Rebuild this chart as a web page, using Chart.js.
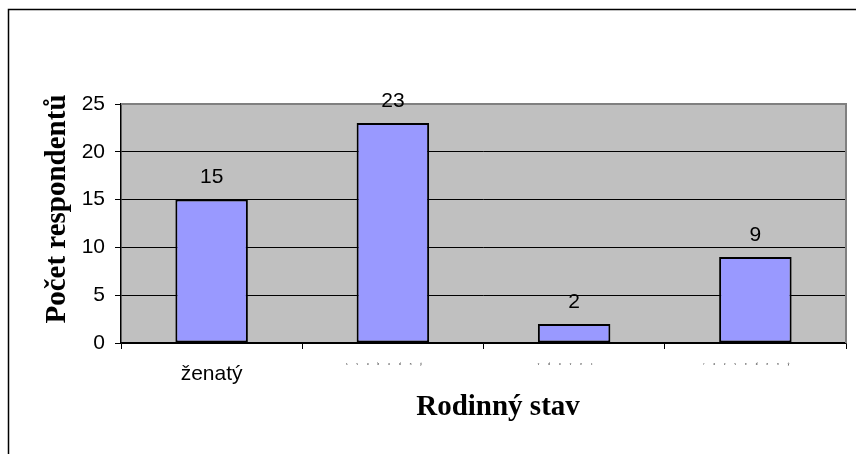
<!DOCTYPE html>
<html>
<head>
<meta charset="utf-8">
<script src="https://cdn.jsdelivr.net/npm/chart.js@4/dist/chart.umd.min.js"></script>
<style>
	html, body { margin: 0; padding: 0; background: #fff; overflow: hidden; }
	#wrap { width: 856px; height: 454px; }
</style>
</head>
<body>
<div id="wrap"><canvas id="stav" width="856" height="454"></canvas></div>
<script>
// data
let categories	= ['ženatý', 'svobodný', 'vdovec', 'rozvedený'];
let respondents	= [15, 23, 2, 9];
let yTicks		= [0, 5, 10, 15, 20, 25];

// only the first label is legible, the others are tiny spaced letters
function spaced(label) {
	return label.split('').join('\u2003\u2003\u2003') + '\u2003\u2003\u2003\u2003\u2003\u2003';
}

let framePlugin = {
	id: 'frame',
	beforeDraw(chart) {
		let ctx = chart.ctx, a = chart.chartArea;
		ctx.save();
		ctx.fillStyle = '#fff';
		ctx.fillRect(0, 0, chart.width, chart.height);
		ctx.strokeStyle = '#000';
		ctx.lineWidth = 1.5;
		ctx.strokeRect(8.5, 9.5, 1000, 1000);
		ctx.fillStyle = '#c0c0c0';
		ctx.fillRect(a.left, a.top, a.right - a.left, a.bottom - a.top);
		ctx.restore();
	},
	beforeDatasetsDraw(chart) {
		let ctx = chart.ctx, a = chart.chartArea;
		ctx.save();
		ctx.strokeStyle = '#808080';
		ctx.lineWidth = 2;
		ctx.beginPath();
		ctx.moveTo(a.left, a.top);
		ctx.lineTo(a.right, a.top);
		ctx.lineTo(a.right, a.bottom);
		ctx.stroke();
		ctx.restore();
	},
	afterDatasetsDraw(chart) {
		let ctx = chart.ctx;
		let meta = chart.getDatasetMeta(0);
		let data = chart.data.datasets[0].data;
		ctx.save();
		ctx.font = '21px "Liberation Sans", Arial, sans-serif';
		ctx.fillStyle = '#000';
		ctx.textAlign = 'center';
		ctx.textBaseline = 'middle';
		meta.data.forEach(function(bar, i) {
			ctx.fillText(String(data[i]), bar.x, bar.y - 22);
		});
		ctx.restore();
	}
};

let ctx = document.getElementById('stav').getContext('2d');

new Chart(ctx, {
	type: 'bar',
	data: {
		labels: categories,
		datasets: [{
			data				: respondents,
			backgroundColor		: '#9999ff',
			borderColor			: '#000',
			borderWidth			: 2,
			borderSkipped		: false,
			barPercentage		: 0.4,
			categoryPercentage	: 1
		}]
	},
	options: {
		responsive: false,
		animation: false,
		events: [],
		layout: { padding: { left: 0, right: 10, top: 104, bottom: 0 } },
		plugins: {
			legend: { display: false },
			tooltip: { enabled: false }
		},
		scales: {
			x: {
				offset: true,
				grid: {
					offset: true,
					drawOnChartArea: false,
					drawTicks: true,
					tickLength: 6,
					color: '#000'
				},
				border: { display: true, color: '#000', width: 1.5 },
				ticks: {
					color: '#000',
					padding: 13,
					maxRotation: 0,
					autoSkip: false,
					callback: function(value, index) {
						let label = categories[index];
						return index === 0 ? label : spaced(label);
					},
					font: function(c) {
						return c.index === 0
							? { family: '"Liberation Sans", Arial, sans-serif', size: 21 }
							: { family: '"Liberation Sans", Arial, sans-serif', size: 3 };
					}
				},
				title: {
					display: true,
					text: '\u2003Rodinný stav',
					color: '#000',
					font: { family: '"Liberation Serif", "Times New Roman", serif', size: 29, weight: 'bold' },
					padding: { top: 0, bottom: 29 }
				},
				afterFit: function(scale) { scale.height = 111; }
			},
			y: {
				min: 0,
				max: 25,
				afterBuildTicks: function(scale) {
					scale.ticks = yTicks.map(function(v) { return { value: v }; });
				},
				grid: {
					color: '#000',
					lineWidth: 1,
					drawTicks: true,
					tickLength: 6
				},
				border: { display: true, color: '#000', width: 1.5 },
				ticks: {
					color: '#000',
					padding: 10,
					font: { family: '"Liberation Sans", Arial, sans-serif', size: 21 }
				},
				title: {
					display: true,
					text: '\u2003Počet respondentů',
					color: '#000',
					font: { family: '"Liberation Serif", "Times New Roman", serif', size: 29, weight: 'bold' },
					padding: { top: 40, bottom: 0 }
				},
				afterFit: function(scale) { scale.width = 121; }
			}
		}
	},
	plugins: [framePlugin]
});
</script>
</body>
</html>
